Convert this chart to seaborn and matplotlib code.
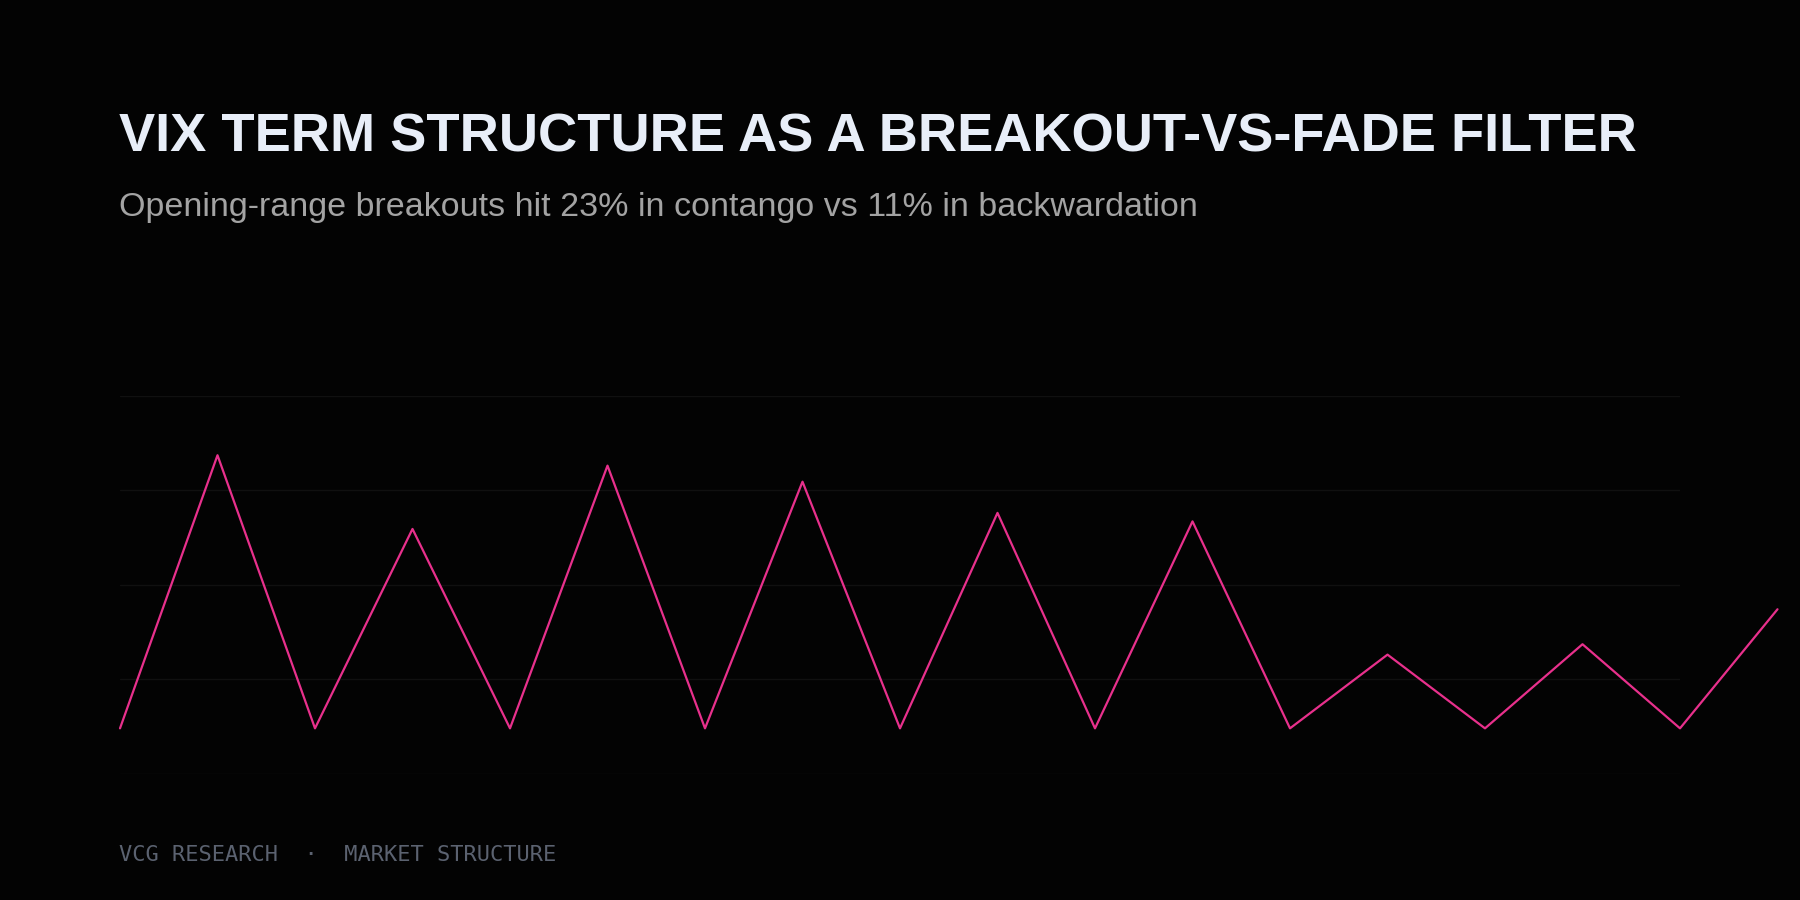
import matplotlib
matplotlib.use("Agg")
import matplotlib.pyplot as plt
import seaborn as sns
import pandas as pd

# ---- data ----
period = list(range(18))
hit_rate = [4.8, 33.7, 4.8, 25.9, 4.8, 32.6, 4.8, 30.9, 4.8, 27.6,
            4.8, 26.7, 4.8, 12.6, 4.8, 13.7, 4.8, 17.4]
grid_ticks = [0, 10, 20, 30, 40]

title = "VIX TERM STRUCTURE AS A BREAKOUT-VS-FADE FILTER"
subtitle = "Opening-range breakouts hit 23% in contango vs 11% in backwardation"
footer = "VCG RESEARCH  \u00b7  MARKET STRUCTURE"

BG = "#030303"
LINE = "#e8308c"

sns.set_theme(style="dark")
plt.rcParams["font.family"] = ["Liberation Sans", "DejaVu Sans"]

W, H = 1800, 900
fig = plt.figure(figsize=(18, 9), dpi=100, facecolor=BG)

ax = fig.add_axes([120 / W, (H - 773.7) / H, 1560 / W, 378 / H])
ax.set_facecolor(BG)
df = pd.DataFrame({"period": period, "hit": hit_rate})
sns.lineplot(data=df, x="period", y="hit", ax=ax, color=LINE, linewidth=1.6,
             clip_on=False)
ax.set_xlim(0, 16)
ax.set_ylim(grid_ticks[0], grid_ticks[-1])
ax.set_yticks(grid_ticks)
ax.set_xticks([])
ax.yaxis.grid(True, color="#101010", linewidth=1.0)
ax.xaxis.grid(False)
ax.tick_params(left=False, bottom=False, labelleft=False, labelbottom=False)
for s in ax.spines.values():
    s.set_visible(False)
ax.set_xlabel("")
ax.set_ylabel("")
for ln in ax.get_lines():
    ln.set_clip_on(False)

renderer = fig.canvas.get_renderer()

def fit_text(x, y_px, s, target_w, size0, **kw):
    t = fig.text(x / W, 1 - y_px / H, s, fontsize=size0, va="baseline",
                 ha="left", **kw)
    w = t.get_window_extent(renderer).width
    t.set_fontsize(size0 * target_w / w)
    return t

fit_text(119, 151, title, 1518, 40, color="#e8eef8", fontweight="bold")
fit_text(119, 216, subtitle, 1077, 24, color="#a3a3a3")
fit_text(119, 861, footer, 438, 16, color="#5b6270",
         family=["DejaVu Sans Mono"])

fig.savefig("out.png", dpi=100, facecolor=BG)
